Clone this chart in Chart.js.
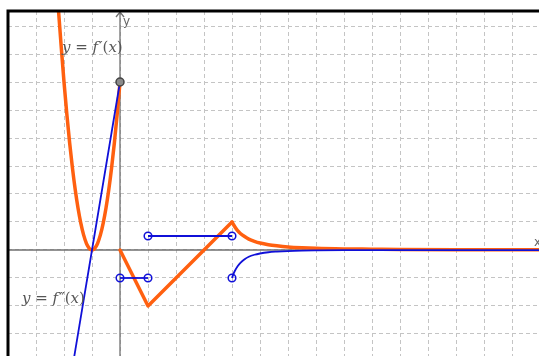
<!DOCTYPE html>
<html>
<head>
<meta charset="utf-8">
<script src="https://cdn.jsdelivr.net/npm/chart.js@4.4.0/dist/chart.umd.min.js"></script>
<style>
  body { margin: 0; background: #fff; }
  #wrap { position: relative; width: 539px; height: 356px; }
</style>
</head>
<body>
<div id="wrap"><canvas id="chart"></canvas></div>
<script>
// values, in grid units

// f'(x), left branch (parabola-like, min at x = -1)
var fpLeftX = [-2.3, -2.2, -2.1, -2.0, -1.9, -1.8, -1.7, -1.6, -1.5, -1.4, -1.3, -1.2, -1.15, -1.1, -1.05, -1.0,
  -0.95, -0.9, -0.85, -0.8, -0.7, -0.6, -0.5, -0.4, -0.3, -0.2, -0.1, 0];
var fpLeftY = [10.1, 8.6, 7.26, 6.0, 4.86, 3.84, 2.94, 2.16, 1.5, 0.96, 0.54, 0.24, 0.135, 0.06, 0.015, 0,
  0.015, 0.06, 0.135, 0.24, 0.54, 0.96, 1.5, 2.16, 2.94, 3.84, 4.86, 6.0];

// f'(x), right part: V shape
var fpVX = [0, 1, 4];
var fpVY = [0, -2, 1];

// f'(x), decaying tail after the peak
var fpTailX = [4, 4.1, 4.2, 4.3, 4.45, 4.6, 4.8, 5.0, 5.3, 5.6, 6.0, 6.5, 7.0, 8.0, 9.0, 10.0, 12.0, 15.0];
var fpTailY = [1, 0.83, 0.69, 0.59, 0.48, 0.39, 0.31, 0.25, 0.19, 0.15, 0.11, 0.08, 0.06, 0.04, 0.03, 0.02, 0.012, 0.007];

// f''(x) pieces
var fppLineX = [-1.8, 0];
var fppLineY = [-4.8, 6];
var fppSeg1X = [0, 1];
var fppSeg1Y = [-1, -1];
var fppSeg2X = [1, 4];
var fppSeg2Y = [0.5, 0.5];
var fppTailX = [4, 4.05, 4.1, 4.2, 4.3, 4.45, 4.6, 4.8, 5.0, 5.3, 5.6, 6.0, 6.5, 7.0, 8.0, 10.0, 15.0];
var fppTailY = [-1, -0.86, -0.75, -0.58, -0.46, -0.33, -0.24, -0.17, -0.125, -0.08, -0.057, -0.037, -0.023, -0.016, -0.008, -0.003, -0.001];

// special points
var holeX = [0, 1, 1, 4, 4];
var holeY = [-1, -1, 0.5, 0.5, -1];
var dotX = [0];
var dotY = [6];

var xMin = -4, xMax = 14.964;
var yMin = -3.786, yMax = 8.536;

function pts(xs, ys) {
  return xs.map(function (x, i) { return { x: x, y: ys[i] }; });
}

var ORANGE = "#ff6010";
var BLUE = "#1010d8";

function orangeSet(xs, ys, smooth) {
  return { data: pts(xs, ys), borderColor: ORANGE, borderWidth: 3.5, pointRadius: 0,
    showLine: true, cubicInterpolationMode: smooth ? "monotone" : "default", tension: 0,
    order: 3, borderJoinStyle: "round", borderCapStyle: "round" };
}
function blueSet(xs, ys, smooth) {
  return { data: pts(xs, ys), borderColor: BLUE, borderWidth: 1.8, pointRadius: 0,
    showLine: true, cubicInterpolationMode: smooth ? "monotone" : "default", tension: 0, order: 2 };
}

// draw a LaTeX-like label piece by piece
function mathLabel(ctx, x, y, parts) {
  ctx.save();
  ctx.fillStyle = "#555";
  ctx.textBaseline = "middle";
  parts.forEach(function (p) {
    ctx.font = (p[1] ? "italic " : "") + "15px 'DejaVu Serif', serif";
    ctx.fillText(p[0], x, y);
    x += ctx.measureText(p[0]).width + (p[2] || 0);
  });
  ctx.restore();
}

var axesPlugin = {
  id: "axes",
  beforeDatasetsDraw: function (chart) {
    var ctx = chart.ctx, xs = chart.scales.x, ys = chart.scales.y;
    var x0 = xs.getPixelForValue(0), y0 = ys.getPixelForValue(0);
    var a = chart.chartArea;
    ctx.save();
    ctx.strokeStyle = "#707070";
    ctx.lineWidth = 1.3;
    ctx.beginPath();
    ctx.moveTo(a.left, y0); ctx.lineTo(a.right, y0);
    ctx.moveTo(x0, a.bottom); ctx.lineTo(x0, a.top + 1);
    // arrow on the y axis
    ctx.moveTo(x0 - 4, a.top + 6); ctx.lineTo(x0, a.top + 1); ctx.lineTo(x0 + 4, a.top + 6);
    ctx.stroke();
    ctx.fillStyle = "#666";
    ctx.font = "12px 'DejaVu Sans', sans-serif";
    ctx.textBaseline = "middle";
    ctx.fillText("y", x0 + 3, a.top + 11);
    ctx.fillText("x", a.right - 5, y0 - 7);
    ctx.restore();
  },
  afterDraw: function (chart) {
    var ctx = chart.ctx, a = chart.chartArea;
    mathLabel(ctx, 62, 48, [["y", true, 0], [" = ", false, 0], ["f", true, 1], ["\u2032", false, 0], ["(", false, 0], ["x", true, 0], [")", false, 0]]);
    mathLabel(ctx, 22, 299, [["y", true, 0], [" = ", false, 0], ["f", true, 1], ["\u2033", false, 0], ["(", false, 0], ["x", true, 0], [")", false, 0]]);
    // frame
    ctx.save();
    ctx.strokeStyle = "#000";
    ctx.lineWidth = 3;
    ctx.beginPath();
    ctx.moveTo(a.left, a.bottom + 2);
    ctx.lineTo(a.left, a.top);
    ctx.lineTo(a.right + 2, a.top);
    ctx.stroke();
    ctx.restore();
  }
};

var ctx = document.getElementById("chart");
var chart = new Chart(ctx, {
  type: "scatter",
  data: {
    datasets: [
      orangeSet(fpLeftX, fpLeftY, true),
      orangeSet(fpVX, fpVY, false),
      orangeSet(fpTailX, fpTailY, true),
      blueSet(fppLineX, fppLineY, false),
      blueSet(fppSeg1X, fppSeg1Y, false),
      blueSet(fppSeg2X, fppSeg2Y, false),
      blueSet(fppTailX, fppTailY, true),
      { data: pts(holeX, holeY), showLine: false, pointRadius: 3.8, pointBorderWidth: 1.5,
        pointBorderColor: BLUE, pointBackgroundColor: "rgba(0,0,0,0)", order: 1 },
      { data: pts(dotX, dotY), showLine: false, pointRadius: 4, pointBorderWidth: 1.5,
        pointBorderColor: "#444", pointBackgroundColor: "#8a8a8a", order: 0 }
    ]
  },
  options: {
    responsive: true,
    maintainAspectRatio: false,
    animation: false,
    events: [],
    layout: { autoPadding: false, padding: { left: 8, top: 11, right: 0, bottom: 0 } },
    plugins: { legend: { display: false }, tooltip: { enabled: false } },
    scales: {
      x: {
        type: "linear", min: xMin, max: xMax,
        ticks: { display: false, stepSize: 1, includeBounds: false },
        grid: { drawTicks: false, color: "#c4c4c4", lineWidth: 1 },
        border: { display: false, dash: [4, 3] }
      },
      y: {
        type: "linear", min: yMin, max: yMax,
        ticks: { display: false, stepSize: 1, includeBounds: false },
        grid: { drawTicks: false, color: "#c4c4c4", lineWidth: 1 },
        border: { display: false, dash: [4, 3] }
      }
    }
  },
  plugins: [axesPlugin]
});
</script>
</body>
</html>
